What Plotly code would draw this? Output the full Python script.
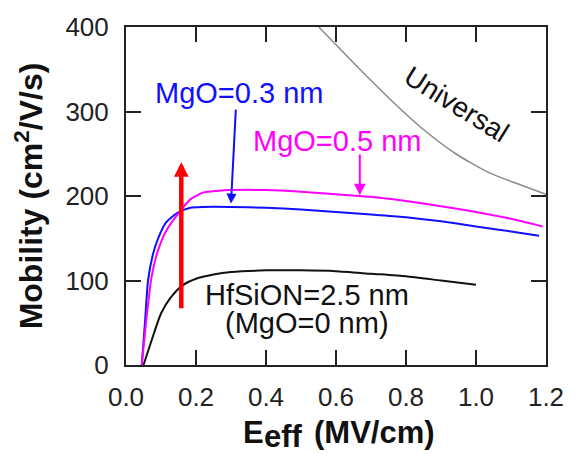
import plotly.graph_objects as go

# Effective field (MV/cm) and electron mobility (cm^2/V/s) for each gate stack
hfsion_x = [0.05, 0.073, 0.10, 0.128, 0.161, 0.20, 0.25, 0.30, 0.40, 0.50, 0.60, 0.70, 0.80, 0.90, 1.00]
hfsion_y = [0, 29, 61, 80, 94, 102, 107, 110, 112, 112, 111, 108, 105, 100, 95]

mgo03_x = [0.045, 0.054, 0.063, 0.077, 0.091, 0.115, 0.147, 0.184, 0.22, 0.30, 0.40, 0.50,
           0.60, 0.70, 0.80, 0.90, 1.00, 1.10, 1.18]
mgo03_y = [0, 49, 100, 131, 149, 169, 180, 186, 187, 187, 186, 184, 181, 178, 175, 170, 164, 158, 153]

mgo05_x = [0.045, 0.059, 0.073, 0.091, 0.115, 0.147, 0.184, 0.22, 0.26, 0.30, 0.40, 0.50,
           0.60, 0.70, 0.80, 0.90, 1.00, 1.10, 1.19]
mgo05_y = [0, 57, 104, 135, 159, 178, 196, 204, 206, 207, 207, 205, 202, 199, 194, 188, 181, 173, 164]

universal_x = [0.551, 0.60, 0.663, 0.756, 0.849, 0.942, 1.035, 1.128, 1.20]
universal_y = [400, 379, 352, 314, 279, 250, 228, 213, 202]

x_ticks = [0.0, 0.2, 0.4, 0.6, 0.8, 1.0, 1.2]
x_tick_text = ["0.0", "0.2", "0.4", "0.6", "0.8", "1.0", "1.2"]
y_ticks = [0, 100, 200, 300, 400]

FONT = "Liberation Sans, Arial, Helvetica, sans-serif"

fig = go.Figure()


def curve(x, y, color, width):
    fig.add_trace(go.Scatter(
        x=x, y=y, mode="lines",
        line=dict(color=color, width=width, shape="spline", smoothing=0.6),
        showlegend=False, hoverinfo="skip",
    ))


curve(universal_x, universal_y, "#8a8a8a", 1.5)
curve(hfsion_x, hfsion_y, "#111111", 2)
curve(mgo03_x, mgo03_y, "#1010ff", 2)
curve(mgo05_x, mgo05_y, "#ff00ff", 2)

annotations = [
    # curve labels
    dict(x=0.078, y=322, text="MgO=0.3 nm", xanchor="left", yanchor="middle",
         showarrow=False, font=dict(size=29, color="#1010ff")),
    dict(x=0.356, y=265.5, text="MgO=0.5 nm", xanchor="left", yanchor="middle",
         showarrow=False, font=dict(size=29, color="#ff00ff")),
    dict(x=0.517, y=83, text="HfSiON=2.5 nm", xanchor="center", yanchor="middle",
         showarrow=False, font=dict(size=29, color="#111111")),
    dict(x=0.517, y=50, text="(MgO=0 nm)", xanchor="center", yanchor="middle",
         showarrow=False, font=dict(size=29, color="#111111")),
    dict(x=0.945, y=308, text="Universal", textangle=32, xanchor="center", yanchor="middle",
         showarrow=False, font=dict(size=28, color="#111111")),
    # pointer arrows from the labels to their curves
    dict(x=0.300, y=191, ax=0.314, ay=304, xref="x", yref="y", axref="x", ayref="y",
         text="", showarrow=True, arrowhead=2, arrowsize=1.0, arrowwidth=2, arrowcolor="#1010ff"),
    dict(x=0.668, y=201, ax=0.668, ay=251, xref="x", yref="y", axref="x", ayref="y",
         text="", showarrow=True, arrowhead=2, arrowsize=1.15, arrowwidth=2, arrowcolor="#ff00ff"),
    # mobility enhancement arrow
    dict(x=0.158, y=240, ax=0.158, ay=65.5, xref="x", yref="y", axref="x", ayref="y",
         text="", showarrow=True, arrowhead=2, arrowsize=0.65, arrowwidth=4.5, arrowcolor="#ff0000"),
]

# x-axis title: E with a full-size, lowered "eff" subscript, then the unit
title_font = dict(family=FONT, size=31, color="#111111", weight="bold")
for txt, dx, dy in [("E", 116, -67.5), ("eff", 137, -71.5), ("(MV/cm)", 187, -67.5)]:
    annotations.append(dict(
        xref="paper", yref="paper", x=0, y=0, xshift=dx, yshift=dy,
        text=txt, xanchor="left", yanchor="middle", showarrow=False,
        font=title_font, borderpad=0,
    ))

axis_common = dict(
    showline=True, linecolor="#222222", linewidth=2, mirror="ticks",
    ticks="inside", ticklen=15, tickwidth=2, tickcolor="#222222",
    showgrid=False, zeroline=False,
    tickfont=dict(family=FONT, size=26, color="#222222"),
)

fig.update_layout(
    width=576, height=454,
    margin=dict(l=126, r=20, t=25, b=89),
    paper_bgcolor="white", plot_bgcolor="white",
    font=dict(family=FONT, color="#111111"),
    annotations=annotations,
    xaxis=dict(
        range=[0, 1.2], tickvals=x_ticks, ticktext=x_tick_text,
        ticklabelstandoff=8,
        **axis_common,
    ),
    yaxis=dict(
        range=[0, 400], tickvals=y_ticks,
        ticklabelstandoff=10,
        title=dict(
            text="Mobility (cm<sup>2</sup>/V/s)",
            font=dict(family=FONT, size=32, color="#111111", weight="bold"),
            standoff=13,
        ),
        **axis_common,
    ),
)

fig.write_html("out.html")
